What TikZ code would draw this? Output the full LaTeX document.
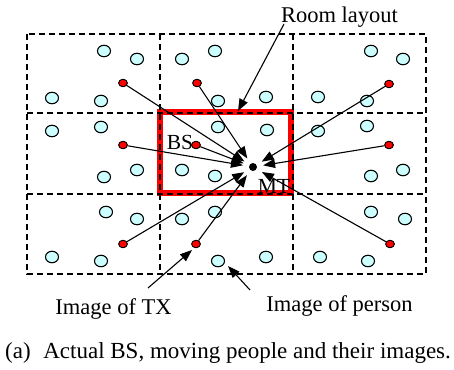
\documentclass[tikz,border=0pt]{standalone}
\usepackage{fontspec}
\setmainfont{Liberation Serif}
\usetikzlibrary{arrows.meta,shapes.geometric}
\definecolor{personcyan}{RGB}{204,255,255}
\tikzset{
  grid/.style={draw=black,line width=1.3pt,dash pattern=on 6pt off 4pt},
  room/.style={draw=red,line width=5.5pt},
  person/.style={ellipse,draw=black,line width=1.1pt,fill=personcyan,minimum width=13pt,minimum height=11.5pt,inner sep=0pt},
  txdot/.style={ellipse,draw=black,line width=0.8pt,fill=red,minimum width=8.6pt,minimum height=7.4pt,inner sep=0pt},
  mtdot/.style={circle,fill=black,minimum size=8pt,inner sep=0pt},
  ray/.style={draw=black,line width=1.1pt,-{Triangle[length=12pt,width=9pt]},shorten >=6pt},
  callout/.style={draw=black,line width=1.1pt,-{Triangle[length=12pt,width=9pt]}},
  lbl/.style={inner sep=0pt,font=\fontsize{22.5}{26}\selectfont},
  small/.style={inner sep=0pt,font=\fontsize{21.5}{25}\selectfont}
}
\begin{document}
\begin{tikzpicture}[x=1pt,y=-1pt]
\useasboundingbox (0,0) rectangle (454,369);
% actual room
\draw[room] (160,112) rectangle (291,193);
% grid of images
\draw[grid] (27,34) rectangle (426,274);
\draw[grid] (160,34) -- (160,274);
\draw[grid] (293,34) -- (293,274);
\draw[grid] (27,113) -- (426,113);
\draw[grid] (27,194) -- (426,194);
% people
\foreach \x/\y [count=\i] in {218/127,267/130,182/170,215/176,
  104/51,137/59,52/98,101/101,
  182/59,215/51,218/101,266/97,
  371/51,403/59,318/97,367/101,
  52/131,101/127,104/177,137/170,
  318/131,367/126,371/176,403/170,
  106/212,137/219,52/257,101/261,
  182/219,215/212,218/261,266/257,
  371/212,405/219,320/257,368/261}
  \node[person] (p\i) at (\x,\y) {};
% MT
\node[mtdot] (MT) at (253,167) {};
% TX and its images
\foreach \x/\y [count=\i] in {123/83,197/83,389/84,123/145,196/145,389/145,123/244,196/244,390/244}
  \node[txdot] (t\i) at (\x,\y) {};
\foreach \i in {1,...,9}
  \draw[ray] (t\i) -- (MT);
\foreach \i in {1,...,9}
  \node[txdot] at (t\i) {};
% labels
\node[small,anchor=base] (bs) at (180,149) {BS};
\node[small,anchor=base] (mt) at (274,193) {MT};
\node[lbl,anchor=base] (roomlbl) at (339.5,23) {Room layout};
\node[lbl,anchor=base] (txlbl) at (113.5,314) {Image of TX};
\node[lbl,anchor=base] (perslbl) at (339.5,311) {Image of person};
\coordinate (roomS) at (284,24);
\coordinate (roomE) at (238,111);
\coordinate (txS) at (148,288);
\coordinate (txE) at (192,250);
\coordinate (persS) at (250,290);
\coordinate (persE) at (228,266);
\draw[callout] (roomS) -- (roomE);
\draw[callout] (txS) -- (txE);
\draw[callout] (persS) -- (persE);
\node[lbl,anchor=base,font=\fontsize{23}{26}\selectfont] (cap) at (228,358) {(a)\hspace{0.55em}Actual BS, moving people and their images.};
\end{tikzpicture}
\end{document}
